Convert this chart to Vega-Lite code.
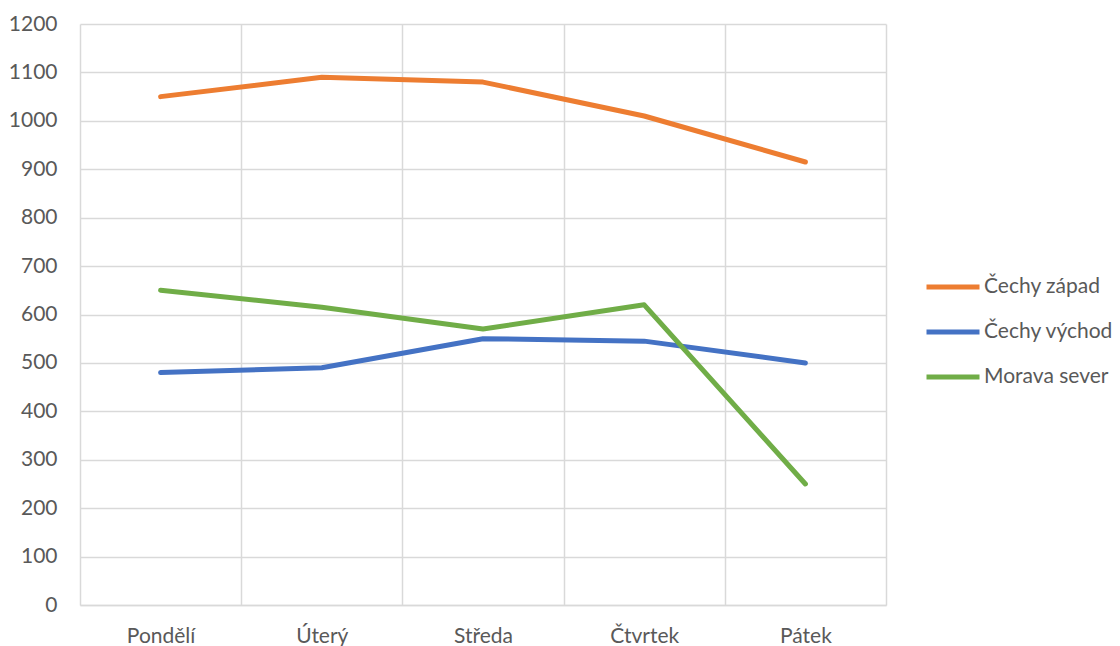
{
  "$schema": "https://vega.github.io/schema/vega-lite/v6.json",
  "autosize": "none",
  "width": 806,
  "height": 581,
  "padding": {"left": 80, "top": 24, "right": 234, "bottom": 41},
  "background": "white",
  "config": {
    "font": "Lato",
    "view": {"stroke": null},
    "axis": {
      "labelFont": "Lato",
      "labelFontSize": 21,
      "labelColor": "#595959",
      "gridColor": "#D9D9D9",
      "gridWidth": 1.5,
      "domainColor": "#D9D9D9",
      "domainWidth": 1.5,
      "ticks": false,
      "tickSize": 0,
      "title": null
    },
    "legend": {
      "labelFont": "Lato",
      "labelFontSize": 21,
      "labelColor": "#595959"
    }
  },
  "data": {
    "values": [
      {"den": "Pondělí", "region": "Čechy západ", "hodnota": 1050},
      {"den": "Úterý", "region": "Čechy západ", "hodnota": 1090},
      {"den": "Středa", "region": "Čechy západ", "hodnota": 1080},
      {"den": "Čtvrtek", "region": "Čechy západ", "hodnota": 1010},
      {"den": "Pátek", "region": "Čechy západ", "hodnota": 915},
      {"den": "Pondělí", "region": "Čechy východ", "hodnota": 480},
      {"den": "Úterý", "region": "Čechy východ", "hodnota": 490},
      {"den": "Středa", "region": "Čechy východ", "hodnota": 550},
      {"den": "Čtvrtek", "region": "Čechy východ", "hodnota": 545},
      {"den": "Pátek", "region": "Čechy východ", "hodnota": 500},
      {"den": "Pondělí", "region": "Morava sever", "hodnota": 650},
      {"den": "Úterý", "region": "Morava sever", "hodnota": 615},
      {"den": "Středa", "region": "Morava sever", "hodnota": 570},
      {"den": "Čtvrtek", "region": "Morava sever", "hodnota": 620},
      {"den": "Pátek", "region": "Morava sever", "hodnota": 250}
    ]
  },
  "mark": {"type": "line", "strokeWidth": 5, "strokeCap": "round", "strokeJoin": "round"},
  "encoding": {
    "x": {
      "field": "den",
      "type": "nominal",
      "sort": ["Pondělí", "Úterý", "Středa", "Čtvrtek", "Pátek"],
      "bandPosition": 0.5,
      "scale": {"type": "band", "paddingInner": 0, "paddingOuter": 0},
      "axis": {"grid": true, "tickBand": "extent", "labelAngle": 0, "labelPadding": 20, "domain": true}
    },
    "y": {
      "field": "hodnota",
      "type": "quantitative",
      "scale": {"domain": [0, 1200], "nice": false},
      "axis": {"values": [0, 100, 200, 300, 400, 500, 600, 700, 800, 900, 1000, 1100, 1200], "format": "d", "domain": false, "grid": true, "labelPadding": 23}
    },
    "color": {
      "field": "region",
      "type": "nominal",
      "scale": {
        "domain": ["Čechy západ", "Čechy východ", "Morava sever"],
        "range": ["#ED7D31", "#4472C4", "#70AD47"]
      },
      "legend": {
        "title": null,
        "orient": "none",
        "legendX": 844,
        "legendY": 234,
        "symbolType": "stroke",
        "symbolSize": 2809,
        "symbolStrokeWidth": 5,
        "labelOffset": 2,
        "rowPadding": 6
      }
    }
  }
}
